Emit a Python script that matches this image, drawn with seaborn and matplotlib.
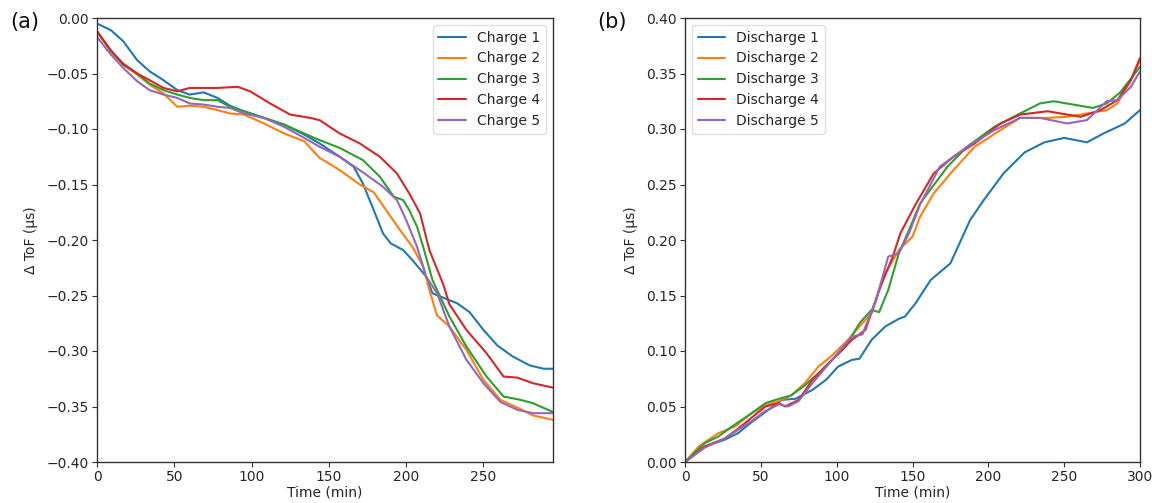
import numpy as np
import pandas as pd
import matplotlib
matplotlib.use("Agg")
import matplotlib.pyplot as plt
import seaborn as sns

# ---------------- data (a) charge ----------------
charge_labels = ["Charge 1", "Charge 2", "Charge 3", "Charge 4", "Charge 5"]

c1_t = [0, 9, 17, 26, 34, 43, 52, 60, 69, 78, 86, 95, 108, 121, 134, 144, 157, 166, 172, 179, 185, 190, 198, 204, 213, 217, 224, 233, 241, 250, 259, 269, 280, 289, 295]
c1_v = [-0.005, -0.011, -0.021, -0.038, -0.048, -0.056, -0.065, -0.069, -0.067, -0.072, -0.079, -0.084, -0.090, -0.096, -0.105, -0.113, -0.125, -0.134, -0.149, -0.173, -0.194, -0.203, -0.209, -0.218, -0.233, -0.248, -0.252, -0.257, -0.265, -0.281, -0.295, -0.305, -0.313, -0.316, -0.316]

c2_t = [0, 9, 17, 26, 34, 43, 52, 60, 69, 78, 86, 95, 108, 121, 134, 144, 157, 170, 179, 187, 196, 204, 211, 215, 220, 228, 239, 250, 261, 272, 282, 295]
c2_v = [-0.012, -0.030, -0.042, -0.051, -0.060, -0.068, -0.080, -0.079, -0.080, -0.083, -0.086, -0.087, -0.095, -0.104, -0.111, -0.126, -0.137, -0.150, -0.157, -0.173, -0.191, -0.206, -0.224, -0.245, -0.268, -0.278, -0.299, -0.326, -0.344, -0.351, -0.358, -0.362]

c3_t = [0, 9, 17, 26, 34, 43, 52, 60, 69, 78, 86, 95, 108, 121, 134, 144, 157, 172, 183, 192, 198, 202, 207, 211, 217, 228, 239, 252, 263, 274, 282, 295]
c3_v = [-0.012, -0.030, -0.041, -0.050, -0.059, -0.065, -0.069, -0.072, -0.074, -0.074, -0.080, -0.084, -0.090, -0.096, -0.104, -0.110, -0.117, -0.128, -0.143, -0.161, -0.164, -0.173, -0.188, -0.206, -0.236, -0.269, -0.296, -0.323, -0.341, -0.344, -0.347, -0.355]

c4_t = [0, 9, 17, 26, 34, 43, 52, 60, 69, 78, 91, 99, 112, 125, 138, 144, 157, 170, 183, 194, 202, 209, 215, 224, 228, 239, 252, 263, 272, 282, 295]
c4_v = [-0.012, -0.029, -0.042, -0.050, -0.056, -0.063, -0.066, -0.063, -0.063, -0.063, -0.062, -0.066, -0.077, -0.087, -0.090, -0.092, -0.104, -0.113, -0.125, -0.140, -0.158, -0.176, -0.209, -0.240, -0.258, -0.281, -0.302, -0.323, -0.324, -0.329, -0.333]

c5_t = [0, 9, 17, 26, 34, 43, 52, 60, 69, 78, 86, 95, 108, 121, 134, 144, 157, 172, 185, 194, 200, 207, 213, 220, 228, 239, 250, 261, 272, 282, 295]
c5_v = [-0.017, -0.033, -0.045, -0.057, -0.065, -0.069, -0.072, -0.077, -0.078, -0.080, -0.081, -0.086, -0.090, -0.098, -0.108, -0.116, -0.125, -0.139, -0.152, -0.164, -0.182, -0.206, -0.233, -0.248, -0.278, -0.308, -0.329, -0.346, -0.353, -0.356, -0.356]

# ---------------- data (b) discharge ----------------
discharge_labels = ["Discharge 1", "Discharge 2", "Discharge 3", "Discharge 4", "Discharge 5"]

d1_t = [0, 13, 26, 35, 44, 55, 64, 73, 84, 93, 101, 110, 115, 123, 132, 141, 145, 152, 162, 175, 188, 197, 210, 224, 237, 250, 265, 276, 290, 300]
d1_v = [0.000, 0.014, 0.020, 0.026, 0.036, 0.047, 0.056, 0.057, 0.065, 0.074, 0.086, 0.092, 0.093, 0.110, 0.122, 0.129, 0.131, 0.143, 0.164, 0.179, 0.218, 0.236, 0.260, 0.279, 0.288, 0.292, 0.288, 0.296, 0.305, 0.317]

d2_t = [0, 9, 22, 33, 44, 53, 62, 70, 79, 88, 97, 106, 115, 123, 132, 141, 150, 155, 164, 177, 191, 208, 221, 239, 252, 265, 278, 285, 294, 300]
d2_v = [0.000, 0.014, 0.026, 0.032, 0.044, 0.051, 0.055, 0.060, 0.071, 0.086, 0.096, 0.108, 0.122, 0.134, 0.170, 0.191, 0.203, 0.221, 0.242, 0.263, 0.284, 0.299, 0.310, 0.310, 0.311, 0.314, 0.317, 0.323, 0.344, 0.362]

d3_t = [0, 13, 22, 31, 44, 53, 62, 70, 79, 88, 97, 106, 115, 123, 128, 134, 141, 148, 155, 173, 186, 204, 221, 234, 243, 256, 269, 278, 287, 300]
d3_v = [0.000, 0.017, 0.023, 0.032, 0.044, 0.053, 0.057, 0.060, 0.069, 0.080, 0.092, 0.104, 0.125, 0.137, 0.135, 0.155, 0.188, 0.210, 0.233, 0.266, 0.284, 0.302, 0.314, 0.323, 0.325, 0.322, 0.319, 0.323, 0.333, 0.356]

d4_t = [0, 13, 26, 35, 44, 53, 62, 66, 75, 84, 97, 110, 119, 128, 137, 142, 152, 164, 177, 191, 208, 221, 239, 252, 261, 274, 285, 294, 300]
d4_v = [0.000, 0.014, 0.021, 0.030, 0.040, 0.050, 0.053, 0.050, 0.056, 0.074, 0.092, 0.110, 0.119, 0.155, 0.185, 0.206, 0.232, 0.260, 0.275, 0.287, 0.305, 0.313, 0.316, 0.313, 0.311, 0.317, 0.326, 0.344, 0.364]

d5_t = [0, 13, 26, 44, 53, 62, 68, 75, 84, 97, 110, 117, 126, 134, 141, 148, 155, 168, 186, 204, 221, 234, 252, 265, 278, 285, 294, 300]
d5_v = [0.000, 0.013, 0.021, 0.037, 0.046, 0.052, 0.050, 0.055, 0.071, 0.092, 0.113, 0.115, 0.146, 0.185, 0.188, 0.207, 0.232, 0.266, 0.284, 0.299, 0.310, 0.310, 0.305, 0.308, 0.325, 0.326, 0.338, 0.352]

xticks = [0, 50, 100, 150, 200, 250, 300]
yticks_a = [-0.40, -0.35, -0.30, -0.25, -0.20, -0.15, -0.10, -0.05, 0.00]
yticks_b = [0.00, 0.05, 0.10, 0.15, 0.20, 0.25, 0.30, 0.35, 0.40]


def long_frame(labels, ts, vs):
    rows = []
    for lab, t, v in zip(labels, ts, vs):
        rows.append(pd.DataFrame({"Time": t, "dToF": v, "series": lab}))
    return pd.concat(rows, ignore_index=True)


def fmt(v, _pos=None):
    s = f"{v:.2f}"
    if s in ("-0.00",):
        s = "0.00"
    return s.replace("-", "\u2212")


df_c = long_frame(charge_labels, [c1_t, c2_t, c3_t, c4_t, c5_t], [c1_v, c2_v, c3_v, c4_v, c5_v])
df_d = long_frame(discharge_labels, [d1_t, d2_t, d3_t, d4_t, d5_t], [d1_v, d2_v, d3_v, d4_v, d5_v])

sns.set_style("ticks")
plt.rcParams.update({
    "font.family": ["DejaVu Sans"],
    "font.size": 10,
    "axes.edgecolor": "#333333",
    "axes.linewidth": 1.0,
    "xtick.color": "#333333",
    "ytick.color": "#333333",
    "xtick.labelcolor": "#262626",
    "ytick.labelcolor": "#262626",
    "xtick.major.size": 3.5,
    "ytick.major.size": 3.5,
    "xtick.major.pad": 2.5,
    "ytick.major.pad": 2.5,
})

fig = plt.figure(figsize=(11.52, 5.03), dpi=100)
ax1 = fig.add_axes([97 / 1152, 1 - 462 / 503, (553 - 97) / 1152, 444 / 503])
ax2 = fig.add_axes([685 / 1152, 1 - 462 / 503, (1140 - 685) / 1152, 444 / 503])

pal = sns.color_palette("tab10", 5)

sns.lineplot(data=df_c, x="Time", y="dToF", hue="series", palette=pal,
             estimator=None, sort=True, linewidth=1.5, ax=ax1)
sns.lineplot(data=df_d, x="Time", y="dToF", hue="series", palette=pal,
             estimator=None, sort=True, linewidth=1.5, ax=ax2)

ax1.set_xlim(0, 295)
ax1.set_ylim(-0.40, 0.00)
ax1.set_xticks(xticks[:-1])
ax1.set_yticks(yticks_a)
ax1.yaxis.set_major_formatter(matplotlib.ticker.FuncFormatter(fmt))

ax2.set_xlim(0, 300)
ax2.set_ylim(0.00, 0.40)
ax2.set_xticks(xticks)
ax2.set_yticks(yticks_b)
ax2.yaxis.set_major_formatter(matplotlib.ticker.FuncFormatter(fmt))

for ax in (ax1, ax2):
    ax.set_xlabel("Time (min)", fontsize=10, labelpad=1, color="#262626")
    ax.set_ylabel("Δ ToF (μs)", fontsize=10, labelpad=6, color="#262626")

ax1.legend(loc="upper right", fontsize=10, frameon=True, framealpha=0.9,
           edgecolor="#dddddd", borderaxespad=0.5, handlelength=2.0)
ax2.legend(loc="upper left", fontsize=10, frameon=True, framealpha=0.9,
           edgecolor="#dddddd", borderaxespad=0.5, handlelength=2.0)

fig.text(10 / 1152, 1 - 22 / 503, "(a)", fontsize=15, va="center", ha="left", color="#111111")
fig.text(597 / 1152, 1 - 22 / 503, "(b)", fontsize=15, va="center", ha="left", color="#111111")

fig.savefig("out.png", dpi=100)
